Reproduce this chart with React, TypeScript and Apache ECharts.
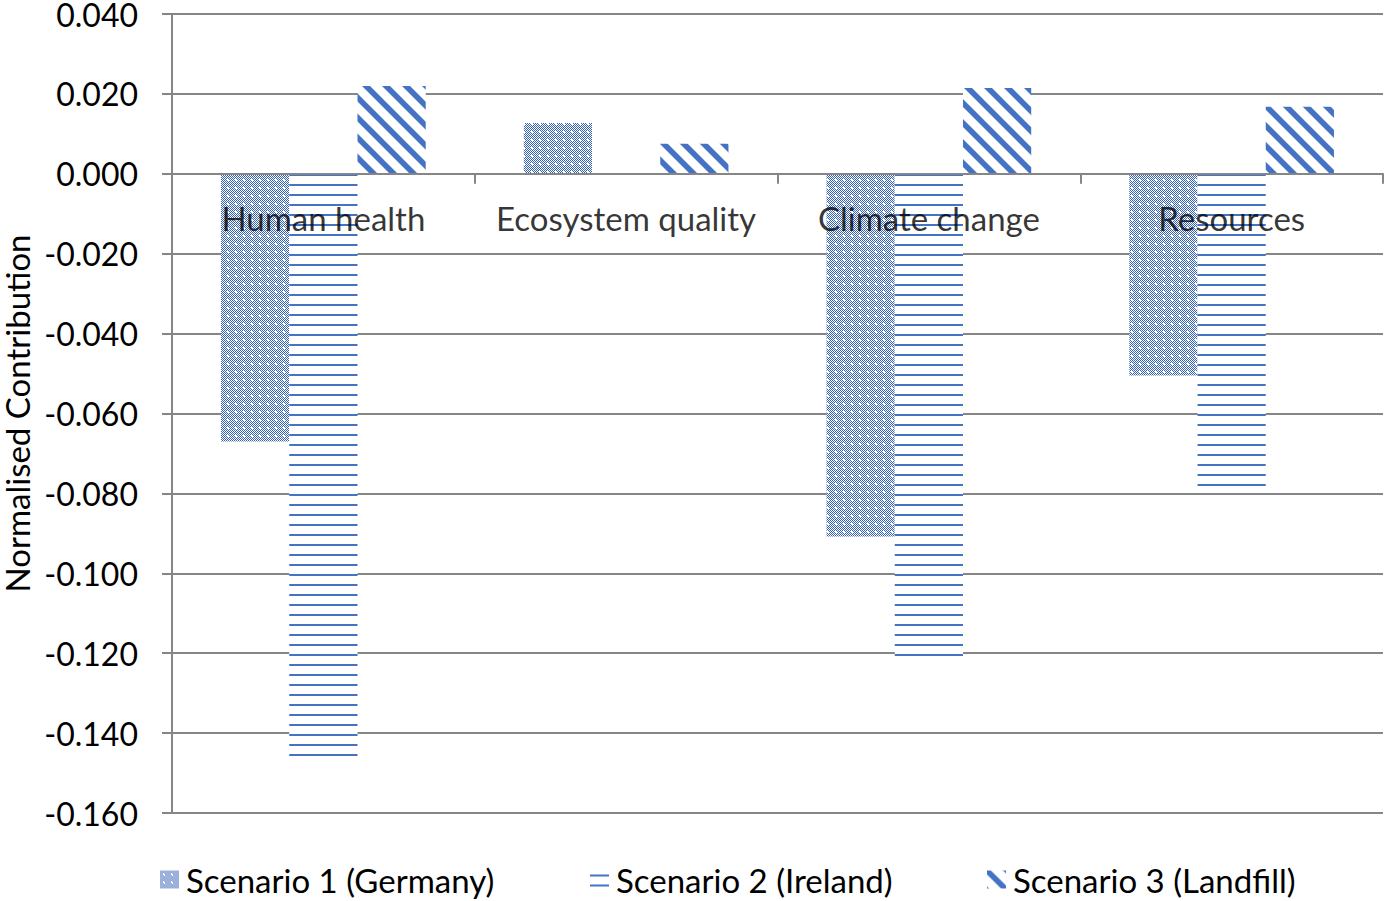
import React, { useEffect, useRef } from "react";
import * as echarts from "echarts";

const categories = ["Human health", "Ecosystem quality", "Climate change", "Resources"];
const seriesNames = ["Scenario 1 (Germany)", "Scenario 2 (Ireland)", "Scenario 3 (Landfill)"];
const scenario1 = [-0.067, 0.0127, -0.0908, -0.0505];
const scenario2 = [-0.146, 0, -0.122, -0.0798];
const scenario3 = [0.022, 0.0075, 0.0215, 0.0168];
const yMin = -0.16;
const yMax = 0.04;
const yStep = 0.02;

const BLUE = "#4472C4";
const DARKBLUE = "#3562B8";
const GRID = "#868686";
const FONT = "Lato";

function makeCanvas(n: number) {
  const c = document.createElement("canvas");
  c.width = n;
  c.height = n;
  const ctx = c.getContext("2d")!;
  ctx.fillStyle = "#ffffff";
  ctx.fillRect(0, 0, n, n);
  return { c, ctx };
}

function dottedPattern() {
  const n = 8;
  const { c, ctx } = makeCanvas(n);
  ctx.fillStyle = DARKBLUE;
  for (let y = 0; y < n; y++) {
    for (let x = 0; x < n; x++) {
      if ((x + y) % 2 === 0) ctx.fillRect(x, y, 1, 1);
    }
  }
  ctx.fillStyle = "#ffffff";
  ctx.fillRect(3, 3, 2, 2);
  return { image: c, repeat: "repeat", imageWidth: n, imageHeight: n };
}

function hLinePattern() {
  const n = 10;
  const { c, ctx } = makeCanvas(n);
  ctx.fillStyle = BLUE;
  ctx.fillRect(0, 4, n, 2);
  return { image: c, repeat: "repeat", imageWidth: n, imageHeight: n };
}

function diagPattern() {
  const n = 20;
  const { c, ctx } = makeCanvas(n);
  ctx.strokeStyle = BLUE;
  ctx.lineWidth = 5.6;
  for (const o of [-n, 0, n]) {
    ctx.beginPath();
    ctx.moveTo(o - 2, -2);
    ctx.lineTo(o + n + 2, n + 2);
    ctx.stroke();
  }
  return { image: c, repeat: "repeat", imageWidth: n, imageHeight: n };
}

export default function App() {
  const ref = useRef<HTMLDivElement>(null);
  useEffect(() => {
    if (!ref.current) return;
    const chart = echarts.init(ref.current, null, { renderer: "svg" });
    const patterns = [dottedPattern(), hLinePattern(), diagPattern()];
    const datas = [scenario1, scenario2, scenario3];
    const legendLefts = [160, 590, 987];
    const barSeries = seriesNames.map((name, i) => ({
      name,
      type: "bar",
      data: datas[i],
      barGap: "0%",
      barCategoryGap: "32.4%",
      itemStyle: { color: patterns[i] },
    }));
    const labelSeries = {
      name: "categoryLabels",
      type: "scatter",
      z: 10,
      symbolSize: 0,
      silent: true,
      data: categories.map((c) => ({ name: c, value: [c, 0] })),
      label: {
        show: true,
        position: "bottom",
        distance: 28,
        formatter: (p: any) => p.name,
        fontFamily: FONT,
        fontSize: 33,
        color: "#000000",
      },
    };
    chart.setOption({
      animation: false,
      backgroundColor: "#ffffff",
      textStyle: { fontFamily: FONT },
      grid: {
        left: 172,
        top: 14,
        width: 1211,
        height: 799,
        containLabel: false,
        outerBoundsMode: "none",
      },
      legend: seriesNames.map((name, i) => ({
        data: [name],
        left: legendLefts[i],
        top: 863,
        padding: 0,
        icon: "rect",
        itemWidth: 19,
        itemHeight: 18,
        itemGap: 0,
        textStyle: {
          fontFamily: FONT,
          fontSize: 33,
          lineHeight: 30,
          color: "#000000",
          padding: [0, 0, 0, 2],
        },
      })),
      xAxis: {
        type: "category",
        data: categories,
        z: 5,
        axisLine: { onZero: true, lineStyle: { color: GRID, width: 2 } },
        axisTick: { show: true, length: 10, lineStyle: { color: GRID, width: 2 } },
        axisLabel: { show: false },
        splitLine: { show: false },
      },
      yAxis: {
        type: "value",
        min: yMin,
        max: yMax,
        interval: yStep,
        name: "Normalised Contribution",
        nameLocation: "middle",
        nameGap: 138,
        nameTextStyle: { fontFamily: FONT, fontSize: 33, lineHeight: 30, color: "#000000" },
        axisLine: { show: true, lineStyle: { color: GRID, width: 2 } },
        axisTick: { show: true, length: 10, lineStyle: { color: GRID, width: 2 } },
        axisLabel: {
          fontFamily: FONT,
          fontSize: 32,
          lineHeight: 26,
          color: "#000000",
          margin: 34,
          formatter: (v: number) => v.toFixed(3),
        },
        splitLine: { show: true, lineStyle: { color: GRID, width: 2 } },
      },
      series: [...barSeries, labelSeries],
    });
    return () => chart.dispose();
  }, []);
  return (
    <div
      ref={ref}
      style={{ position: "absolute", left: 0, top: 0, width: 1386, height: 901 }}
    />
  );
}
